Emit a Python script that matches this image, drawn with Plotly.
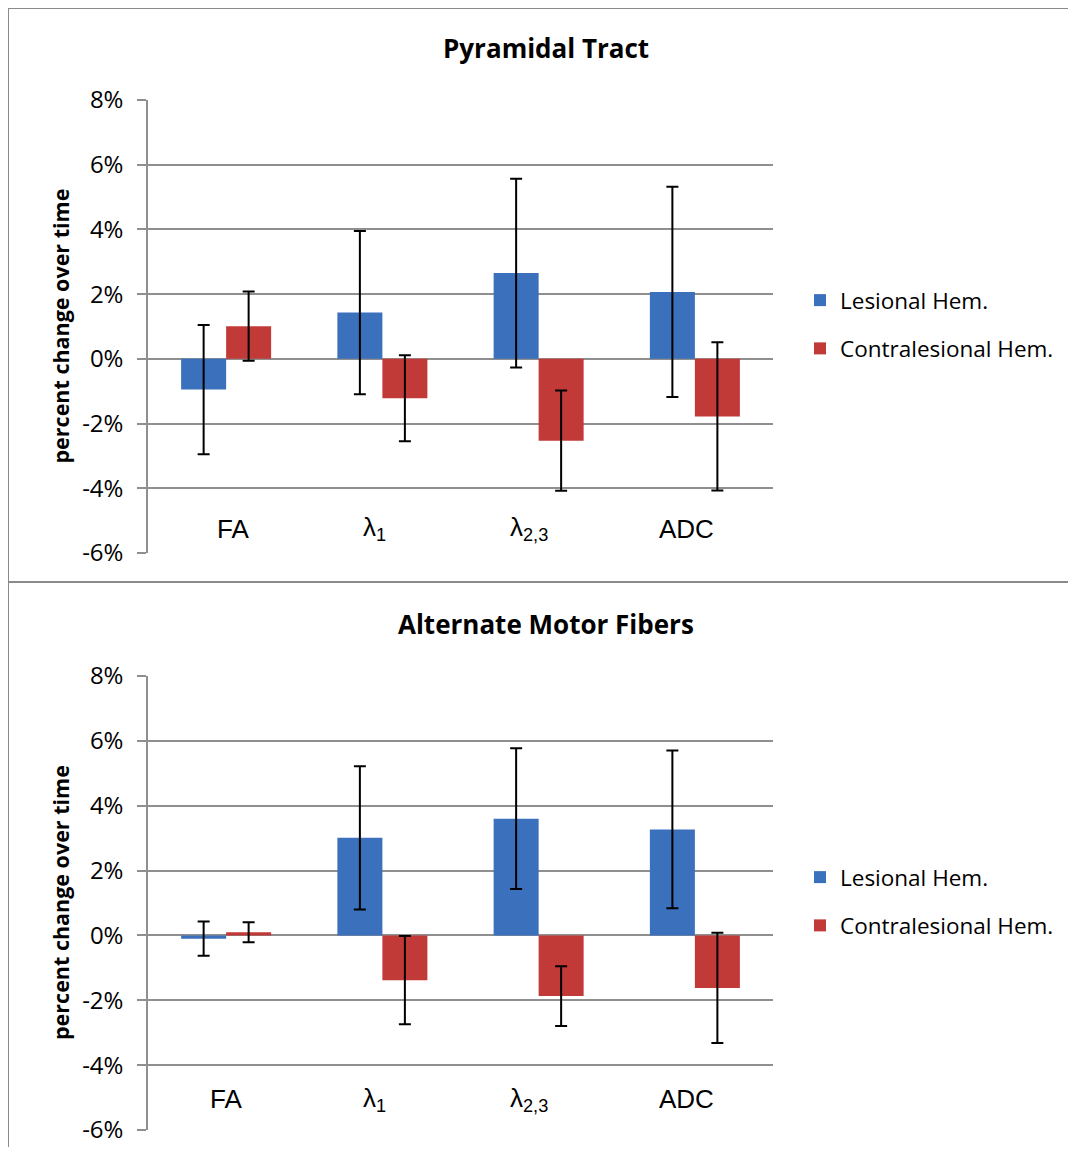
import plotly.graph_objects as go

# page body has an 8px margin, so the figure is drawn 16px smaller and all
# reference pixel positions are shifted by OFF
W, H = 1060, 1139
OFF = 8

categories = ["FA", "λ1", "λ2,3", "ADC"]
category_labels = ["FA", "λ<sub>1</sub>", "λ<sub>2,3</sub>", "ADC"]
series_names = ["Lesional Hem.", "Contralesional Hem."]

# Pyramidal Tract (percent)
pyr_lesional = [-0.95, 1.43, 2.65, 2.07]
pyr_lesional_err = [2.0, 2.52, 2.92, 3.25]
pyr_contra = [1.01, -1.22, -2.53, -1.78]
pyr_contra_err = [1.07, 1.33, 1.55, 2.29]

# Alternate Motor Fibers (percent)
amf_lesional = [-0.10, 3.01, 3.60, 3.27]
amf_lesional_err = [0.53, 2.21, 2.17, 2.43]
amf_contra = [0.10, -1.38, -1.87, -1.62]
amf_contra_err = [0.31, 1.36, 0.92, 1.70]

panel_titles = ["Pyramidal Tract", "Alternate Motor Fibers"]
y_title = "percent change over time"
y_ticks = [-6, -4, -2, 0, 2, 4, 6, 8]
y_ticktext = ["-6%", "-4%", "-2%", "0%", "2%", "4%", "6%", "8%"]

BLUE = "#3A70BC"
RED = "#C13A37"
GRID = "#8f8f8f"
FONT = "Open Sans, sans-serif"


def px_x(p):
    return (p - OFF) / W


def px_y(p):
    return 1 - (p - OFF) / H


fig = go.Figure()

panels = [
    dict(les=pyr_lesional, les_e=pyr_lesional_err, con=pyr_contra, con_e=pyr_contra_err,
         xa="x", ya="y", legend="legend", top=100, bot=553, lab_y=-5.25, title_y=48,
         leg_y=302, lab_shift=[7, -8, -10, -8]),
    dict(les=amf_lesional, les_e=amf_lesional_err, con=amf_contra, con_e=amf_contra_err,
         xa="x2", ya="y2", legend="legend2", top=676, bot=1130, lab_y=-5.05, title_y=624,
         leg_y=879, lab_shift=[0, -8, -10, -8]),
]

for i, p in enumerate(panels):
    for name, vals, errs, col in [(series_names[0], p["les"], p["les_e"], BLUE),
                                  (series_names[1], p["con"], p["con_e"], RED)]:
        fig.add_trace(go.Bar(
            x=categories, y=vals, name=name, xaxis=p["xa"], yaxis=p["ya"],
            marker=dict(color=col, line=dict(width=0)),
            error_y=dict(type="data", array=errs, visible=True, color="black",
                         thickness=2, width=6),
            legend=p["legend"], legendgroup=f"{name}{i}",
        ))

layout = dict(
    width=W, height=H,
    margin=dict(l=0, r=0, t=0, b=0, autoexpand=False),
    paper_bgcolor="white", plot_bgcolor="white",
    barmode="group", bargap=0.424, bargroupgap=0.0,
    showlegend=True,
    font=dict(family=FONT, color="black"),
)

annotations = []
shapes = []
for i, p in enumerate(panels):
    sfx = "" if i == 0 else "2"
    layout["xaxis" + sfx] = dict(
        domain=[px_x(148), px_x(773)], type="category",
        categoryorder="array", categoryarray=categories,
        range=[-0.5, 3.5], showticklabels=False, showgrid=False,
        zeroline=False, showline=False, ticks="", automargin=False,
        anchor="y" + sfx,
    )
    layout["yaxis" + sfx] = dict(
        domain=[px_y(p["bot"]), px_y(p["top"])], range=[-6, 8],
        tickmode="array", tickvals=y_ticks, ticktext=y_ticktext,
        ticks="outside", ticklen=9, ticklabelstandoff=9,
        tickcolor=GRID, tickwidth=1.5,
        showgrid=True, gridcolor=GRID, gridwidth=1.5,
        showline=True, linecolor=GRID, linewidth=1.5,
        zeroline=False, automargin=False,
        tickfont=dict(size=24, family=FONT, color="black"),
        anchor="x" + sfx,
    )
    layout["legend" if i == 0 else "legend2"] = dict(
        x=px_x(800), y=px_y(p["leg_y"] - 23), xanchor="left", yanchor="top",
        font=dict(size=22.5, family=FONT, color="black"),
        tracegroupgap=16, bgcolor="rgba(0,0,0,0)", itemwidth=30,
    )
    for cat, lab, sh in zip(categories, category_labels, p["lab_shift"]):
        annotations.append(dict(
            x=cat, y=p["lab_y"], xref="x" + sfx, yref="y" + sfx,
            xanchor="center", yanchor="middle", xshift=sh,
            text=lab, showarrow=False,
            font=dict(size=26, family="Liberation Sans, Arial, sans-serif", color="black"),
        ))
    annotations.append(dict(
        x=px_x(546), y=px_y(p["title_y"]), xref="paper", yref="paper",
        xanchor="center", yanchor="middle",
        text=f"<b>{panel_titles[i]}</b>", showarrow=False,
        font=dict(size=26, family=FONT, color="black"),
    ))
    annotations.append(dict(
        x=px_x(60), y=px_y((p["top"] + p["bot"]) / 2), xref="paper", yref="paper",
        xanchor="center", yanchor="middle",
        text=f"<b>{y_title}</b>", showarrow=False, textangle=-90,
        font=dict(size=21.5, family=FONT, color="black"),
    ))

# panel borders
border = dict(color="#8a8a8a", width=2)
shapes.append(dict(type="line", xref="paper", yref="paper", x0=px_x(8), x1=1,
                   y0=px_y(8), y1=px_y(8), line=border))
shapes.append(dict(type="line", xref="paper", yref="paper", x0=px_x(8), x1=px_x(8),
                   y0=px_y(8), y1=0, line=border))
shapes.append(dict(type="line", xref="paper", yref="paper", x0=px_x(8), x1=1,
                   y0=px_y(582), y1=px_y(582), line=border))

layout["annotations"] = annotations
layout["shapes"] = shapes
fig.update_layout(**layout)

fig.write_html("out.html")
